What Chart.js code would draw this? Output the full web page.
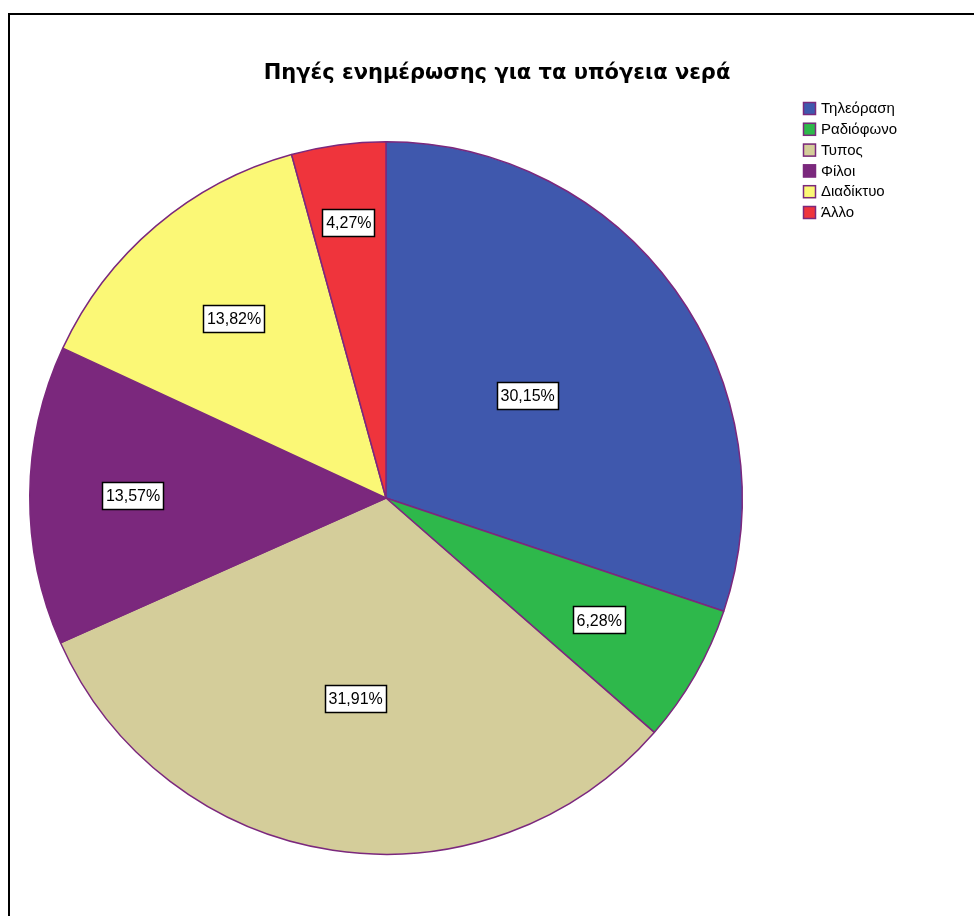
<!DOCTYPE html>
<html>
<head>
<meta charset="utf-8">
<script src="https://cdn.jsdelivr.net/npm/chart.js@4/dist/chart.umd.min.js"></script>
<style>
  html, body { margin: 0; padding: 0; background: #fff; }
  #wrap { position: relative; width: 974px; height: 916px; overflow: hidden; }
  #frame { position: absolute; left: 8px; top: 13px; right: -10px; bottom: -10px;
           border-left: 2px solid #000; border-top: 2px solid #000; }
  #pie { position: absolute; left: 0; top: 0; }
</style>
</head>
<body>
<div id="wrap">
  <div id="frame"></div>
  <canvas id="pie" width="974" height="916"></canvas>
</div>
<script>
// survey data: sources of information about groundwater (%)
var labels = ['Τηλεόραση', 'Ραδιόφωνο', 'Τυπος', 'Φίλοι', 'Διαδίκτυο', 'Άλλο'];
var values = [30.15, 6.28, 31.91, 13.57, 13.82, 4.27];
var colors = ['#3f58ad', '#2eb84b', '#d4cd9a', '#7b287d', '#fbf876', '#ef343c'];
var chartTitle = 'Πηγές ενημέρωσης για τα υπόγεια νερά';

// how far out along each slice the value box sits (fraction of radius)
var labelRadius = [0.49, 0.69, 0.57, 0.71, 0.66, 0.78];

var fmt = function (v) { return v.toFixed(2).replace('.', ',') + '%'; };

var extras = {
  id: 'extras',
  afterDraw: function (chart) {
    var ctx = chart.ctx;
    var meta = chart.getDatasetMeta(0);
    ctx.save();

    // value boxes
    ctx.font = '16px "Liberation Sans", Arial, sans-serif';
    ctx.textAlign = 'center';
    ctx.textBaseline = 'middle';
    meta.data.forEach(function (arc, i) {
      var mid = (arc.startAngle + arc.endAngle) / 2;
      var r = arc.outerRadius * labelRadius[i];
      var x = arc.x + Math.cos(mid) * r;
      var y = arc.y + Math.sin(mid) * r;
      var txt = fmt(values[i]);
      var w = ctx.measureText(txt).width + 8;
      var h = 28;
      ctx.fillStyle = '#fff';
      ctx.fillRect(Math.round(x - w / 2), Math.round(y - h / 2), Math.round(w), h);
      ctx.strokeStyle = '#000';
      ctx.lineWidth = 1.5;
      ctx.strokeRect(Math.round(x - w / 2) + 0.5, Math.round(y - h / 2) + 0.5, Math.round(w) - 1, h - 1);
      ctx.fillStyle = '#000';
      ctx.fillText(txt, x, y + 1);
    });

    // title
    ctx.font = 'bold 21px "DejaVu Sans", sans-serif';
    ctx.fillText(chartTitle, 497, 74);

    // legend
    ctx.font = '15px "Liberation Sans", Arial, sans-serif';
    ctx.textAlign = 'left';
    labels.forEach(function (lab, i) {
      var y = 108 + i * 20.8;
      ctx.fillStyle = colors[i];
      ctx.fillRect(803, y - 6, 13, 13);
      ctx.strokeStyle = '#7b287d';
      ctx.lineWidth = 1.5;
      ctx.strokeRect(803.5, y - 5.5, 12, 12);
      ctx.fillStyle = '#000';
      ctx.fillText(lab, 821, y + 1);
    });
    ctx.restore();
  }
};

new Chart('pie', {
  type: 'pie',
  data: {
    labels: labels,
    datasets: [{
      data: values,
      backgroundColor: colors,
      borderColor: '#7b287d',
      borderWidth: 1.5
    }]
  },
  options: {
    responsive: false,
    animation: false,
    layout: { padding: { left: 29, top: 141, right: 231, bottom: 61 } },
    plugins: {
      legend: { display: false },
      title: { display: false },
      tooltip: { enabled: false }
    }
  },
  plugins: [extras]
});
</script>
</body>
</html>
